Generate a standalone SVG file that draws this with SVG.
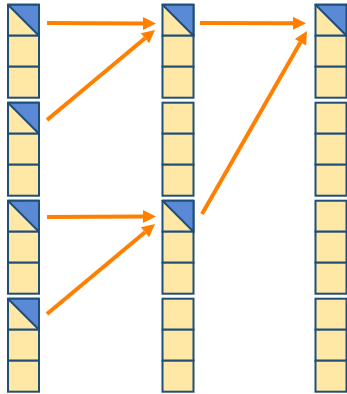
<svg xmlns="http://www.w3.org/2000/svg" width="347" height="394" viewBox="0 0 347 394">
<style>
.cell{fill:#FFE8A6;stroke:#1F4E79;stroke-width:2}
.tri{fill:#5A8AD6;stroke:#1F4E79;stroke-width:2;stroke-linejoin:round}
.arr{stroke:#FF8000;stroke-width:4;fill:none;marker-end:url(#ah)}
</style>
<defs>
<marker id="ah" markerUnits="userSpaceOnUse" markerWidth="14" markerHeight="14" viewBox="0 -7 14 14" refX="0" refY="0" orient="auto" overflow="visible">
<path d="M0,-6.5 L13,0 L0,6.5 z" fill="#FF8000"/>
</marker>
<g id="stack">
<rect class="cell" x="0" y="0" width="31" height="31"/>
<rect class="cell" x="0" y="31" width="31" height="31"/>
<rect class="cell" x="0" y="62" width="31" height="31"/>
</g>
<path id="tri" class="tri" d="M0,0 L31,0 L31,31 z"/>
</defs>
<g id="c1s1" transform="translate(8,4.7)"><use href="#stack"/><use href="#tri"/></g>
<g id="c1s2" transform="translate(8,102.7)"><use href="#stack"/><use href="#tri"/></g>
<g id="c1s3" transform="translate(8,200.7)"><use href="#stack"/><use href="#tri"/></g>
<g id="c1s4" transform="translate(8,298.7)"><use href="#stack"/><use href="#tri"/></g>
<g id="c2s1" transform="translate(162.5,4.7)"><use href="#stack"/><use href="#tri"/></g>
<g id="c2s2" transform="translate(162.5,102.7)"><use href="#stack"/></g>
<g id="c2s3" transform="translate(162.5,200.7)"><use href="#stack"/><use href="#tri"/></g>
<g id="c2s4" transform="translate(162.5,298.7)"><use href="#stack"/></g>
<g id="c3s1" transform="translate(315.5,4.7)"><use href="#stack"/><use href="#tri"/></g>
<g id="c3s2" transform="translate(315.5,102.7)"><use href="#stack"/></g>
<g id="c3s3" transform="translate(315.5,200.7)"><use href="#stack"/></g>
<g id="c3s4" transform="translate(315.5,298.7)"><use href="#stack"/></g>
<g id="connectors">
<line class="arr" x1="47" y1="23" x2="143" y2="23.5"/>
<line class="arr" x1="47" y1="120" x2="145" y2="38.3"/>
<line class="arr" x1="200" y1="23" x2="293" y2="23.3"/>
<line class="arr" x1="202" y1="214" x2="300.5" y2="42.3"/>
<line class="arr" x1="47" y1="217" x2="143" y2="216.5"/>
<line class="arr" x1="47" y1="314" x2="145" y2="232.3"/>
</g>
</svg>
